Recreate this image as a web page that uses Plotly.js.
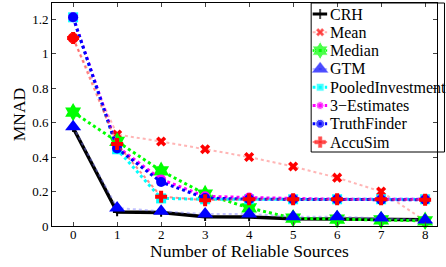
<!DOCTYPE html>
<html>
<head>
<meta charset="utf-8">
<script src="https://cdn.plot.ly/plotly-3.0.1.min.js"></script>
<style>html,body{margin:0;padding:0;background:#fff;}#chart{width:446px;height:267px;}</style>
</head>
<body>
<div id="chart"></div>
<script>
const sources = [0, 1, 2, 3, 4, 5, 6, 7, 8];
const crh = [0.57, 0.081, 0.078, 0.054, 0.052, 0.042, 0.040, 0.036, 0.036];
const mean = [1.09, 0.53, 0.49, 0.445, 0.40, 0.345, 0.28, 0.20, 0.03];
const median = [0.66, 0.49, 0.32, 0.185, 0.105, 0.045, 0.040, 0.035, 0.030];
const gtm = [0.575, 0.105, 0.085, 0.07, 0.07, 0.054, 0.054, 0.046, 0.035];
const pooled = [1.21, 0.445, 0.16, 0.155, 0.155, 0.155, 0.155, 0.155, 0.155];
const threeEst = [1.21, 0.46, 0.27, 0.172, 0.165, 0.158, 0.155, 0.155, 0.155];
const truthFinder = [1.21, 0.45, 0.255, 0.162, 0.155, 0.155, 0.155, 0.152, 0.152];
const accuSim = [1.09, 0.475, 0.17, 0.15, 0.155, 0.155, 0.155, 0.155, 0.152];
const names = ['CRH', 'Mean', 'Median', 'GTM', 'PooledInvestment', '3\u2212Estimates', 'TruthFinder', 'AccuSim'];
const xTickLabels = ['0', '1', '2', '3', '4', '5', '6', '7', '8'];
const yTicks = [0, 0.2, 0.4, 0.6, 0.8, 1, 1.2];
const xTitle = 'Number of Reliable Sources';
const yTitle = 'MNAD';

const styles = [
  {line: {color: '#000', width: 3.5, dash: 'solid'}, marker: {symbol: 'cross-thin', size: 6, color: '#000', line: {color: '#000', width: 2}}, key: 7},
  {line: {color: 'rgba(255,120,120,0.55)', width: 2, dash: 'dot'}, marker: {symbol: 'x', size: 9, color: '#ff0000'}, key: 7},
  {line: {color: '#00ff00', width: 3, dash: 'dot'}, marker: {symbol: 'hexagram', size: 14, color: '#00ff00'}, key: 14},
  {line: {color: 'rgba(120,120,255,0.45)', width: 2, dash: 'dot'}, marker: {symbol: 'triangle-up', size: 14, color: '#0000ff'}, key: 14},
  {line: {color: '#00ffff', width: 3, dash: 'dot'}, marker: {symbol: 'square', size: 10, color: '#00ffff'}, key: 8},
  {line: {color: '#ff00ff', width: 3, dash: 'dot'}, marker: {symbol: 'circle', size: 10, color: '#ff00ff'}, key: 8},
  {line: {color: '#0000ff', width: 3, dash: 'dot'}, marker: {symbol: 'circle', size: 10, color: '#0000ff'}, key: 9},
  {line: {color: 'rgba(255,60,60,0.6)', width: 2, dash: 'dot'}, marker: {symbol: 'cross', size: 10, color: '#ff0000'}, key: 9}
];
const seriesData = [crh, mean, median, gtm, pooled, threeEst, truthFinder, accuSim];

const traces = seriesData.map((ys, i) => ({
  x: sources, y: ys, name: names[i], type: 'scatter', mode: 'lines+markers',
  line: styles[i].line, marker: styles[i].marker, showlegend: false, cliponaxis: false
}));

// Custom legend (pixel-space overlay axes) to mimic the compact MATLAB legend
const L = 51.5, R = 437, T = 3, B = 226;
const legTop = 14, legStep = 18.3, keyX0 = 312.5, keyXc = 320, keyX1 = 327, textX = 328;
const font = {family: '"Liberation Serif", "Times New Roman", serif', color: '#000'};
const annotations = [];
names.forEach((nm, i) => {
  const yc = legTop + i * legStep;
  const m = Object.assign({}, styles[i].marker, {size: [0, styles[i].key, 0]});
  traces.push({
    x: [keyX0, keyXc, keyX1], y: [yc, yc, yc], xaxis: 'x2', yaxis: 'y2',
    type: 'scatter', mode: 'lines+markers', showlegend: false, hoverinfo: 'skip',
    line: Object.assign({}, styles[i].line, {width: Math.min(styles[i].line.width, 3)}),
    marker: m, cliponaxis: false
  });
  annotations.push({
    x: textX, y: yc, xref: 'x2', yref: 'y2', text: nm, showarrow: false,
    xanchor: 'left', yanchor: 'middle', font: Object.assign({size: 16}, font)
  });
});
// x tick labels placed close to the axis, as in the MATLAB figure
sources.forEach((v, i) => {
  annotations.push({
    x: v, xref: 'x', y: (B - 234.5) / (B - T), yref: 'paper', text: xTickLabels[i],
    showarrow: false, xanchor: 'center', yanchor: 'middle', borderpad: 0,
    font: Object.assign({size: 13}, font)
  });
});
annotations.push({
  x: (249 - L) / (R - L), y: (B - 251) / (B - T), xref: 'paper', yref: 'paper',
  text: xTitle, showarrow: false, xanchor: 'center', yanchor: 'middle', borderpad: 0,
  font: Object.assign({size: 17.5}, font)
});

const layout = {
  width: 446, height: 267,
  margin: {l: L, r: 446 - R, t: T, b: 267 - B},
  paper_bgcolor: '#fff', plot_bgcolor: '#fff',
  font: Object.assign({size: 13}, font),
  showlegend: false,
  xaxis: {
    range: [-0.48, 8.27], tickvals: sources, showticklabels: false, ticks: 'inside', ticklen: 4,
    showline: true, linecolor: '#000', linewidth: 1, mirror: 'ticks',
    showgrid: false, zeroline: false
  },
  yaxis: {
    range: [0, 1.293], tickvals: yTicks, ticks: 'inside', ticklen: 4,
    showline: true, linecolor: '#000', linewidth: 1, mirror: 'ticks',
    showgrid: false, zeroline: false,
    tickfont: Object.assign({size: 13}, font),
    title: {text: yTitle, font: Object.assign({size: 17.5}, font), standoff: 2}
  },
  xaxis2: {overlaying: 'x', range: [L, R], visible: false, fixedrange: true},
  yaxis2: {overlaying: 'y', range: [B, T], visible: false, fixedrange: true},
  shapes: [{
    type: 'rect', xref: 'paper', yref: 'paper',
    x0: (311 - L) / (R - L), x1: (444.5 - L) / (R - L),
    y0: (B - 152) / (B - T), y1: 1,
    line: {color: '#000', width: 1}, fillcolor: 'rgba(0,0,0,0)', layer: 'above'
  }],
  annotations: annotations
};
Plotly.newPlot('chart', traces, layout, {staticPlot: true, displayModeBar: false});
</script>
</body>
</html>
